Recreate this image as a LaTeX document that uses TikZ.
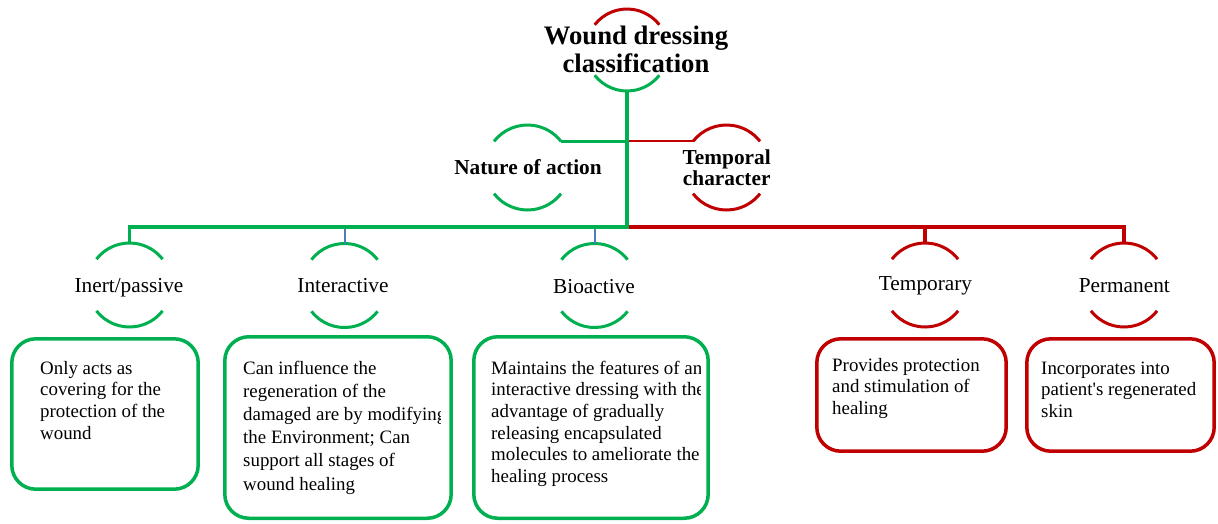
\documentclass[tikz,border=0pt]{standalone}
\usepackage{fontspec}
\setmainfont{Liberation Serif}
\definecolor{dgreen}{RGB}{0,176,80}
\definecolor{dred}{RGB}{192,0,0}
\definecolor{lblue}{RGB}{74,126,187}
\newcommand\mylines[1]{\begin{tabular}[t]{@{}l@{}}#1\end{tabular}}
\newcommand\myclines[1]{\begin{tabular}[t]{@{}c@{}}#1\end{tabular}}
\newcommand\ringarcs[4]{%
  \draw[#2] (#1.142) arc[start angle=142,end angle=38,radius=#4];
  \draw[#3] (#1.218) arc[start angle=218,end angle=322,radius=#4];}
\begin{document}
\begin{tikzpicture}[x=1pt,y=-1pt,
  ring/.style={circle,draw=none,minimum size=84pt,inner sep=0pt,outer sep=0pt},
  garc/.style={draw=dgreen,line width=3pt},
  rarc/.style={draw=dred,line width=3pt},
  gbox/.style={rectangle,draw=dgreen,line width=3.5pt,rounded corners=24pt,inner sep=0pt,outer sep=0pt},
  rbox/.style={rectangle,draw=dred,line width=3.5pt,rounded corners=24pt,inner sep=0pt,outer sep=0pt},
  titletext/.style={font=\fontsize{26.7}{28.5}\selectfont\bfseries,inner sep=0pt,anchor=base},
  cattext/.style={font=\fontsize{21.3}{21}\selectfont\bfseries,inner sep=0pt,anchor=base},
  subtext/.style={font=\fontsize{21.3}{23}\selectfont,inner sep=0pt,anchor=base},
  desc/.style={font=\fontsize{18.9}{21.7}\selectfont,inner sep=0pt,anchor=base west},
  gline/.style={draw=dgreen,line width=3.3pt},
  rline/.style={draw=dred,line width=3.3pt},
  rthin/.style={draw=dred,line width=2pt},
  bline/.style={draw=lblue,line width=2pt},
]
\useasboundingbox (0,0) rectangle (1218,523);

% rings
\node[ring,minimum size=82pt] (wdc) at (627,50) {};
\node[ring,minimum size=85pt] (noa) at (527.5,167.5) {};
\node[ring,minimum size=85pt] (tc) at (726.5,167.5) {};
\node[ring] (inert) at (129.5,285) {};
\node[ring] (inter) at (344.5,285.5) {};
\node[ring] (bio) at (594.5,285.5) {};
\node[ring] (temp) at (925,285) {};
\node[ring] (perm) at (1124,285) {};

\ringarcs{wdc}{rarc}{garc}{41pt}
\ringarcs{noa}{garc}{garc}{42.5pt}
\ringarcs{tc}{rarc}{rarc}{42.5pt}
\ringarcs{inert}{garc}{garc}{42pt}
\ringarcs{inter}{garc}{garc}{42pt}
\ringarcs{bio}{garc}{garc}{42pt}
\ringarcs{temp}{rarc}{rarc}{42pt}
\ringarcs{perm}{rarc}{rarc}{42pt}

% labels
\node[titletext] (wdcT) at (636,44) {\myclines{Wound dressing\\classification}};
\node[cattext] (noaT) at (528,174) {Nature of action};
\node[cattext] (tcT) at (726.7,164.5) {\myclines{Temporal\\character}};
\node[subtext] (inertT) at (129,292.5) {Inert/passive};
\node[subtext] (interT) at (343,292.5) {Interactive};
\node[subtext] (bioT) at (594,293) {Bioactive};
\node[subtext] (tempT) at (925.5,290.5) {Temporary};
\node[subtext] (permT) at (1124.3,292) {Permanent};

% connectors
\coordinate (hub) at (627,227);
\draw[rline] (hub) -| (perm.north);
\draw[rline] (temp.north |- hub) -- (temp.north);
\draw[rthin] (tc.142 -| wdc.south) -- (tc.142);
\draw[bline] (inter.north |- hub) -- (inter.north);
\draw[bline] (bio.north |- hub) -- (bio.north);
\draw[gline] (wdc.south) -- (hub) -| (inert.north);
\draw[gline] (noa.38) -- (noa.38 -| wdc.south);

% boxes
\node[gbox,minimum width=186.4pt,minimum height=150.4pt] (b1) at (105,414) {};
\node[gbox,minimum width=226.4pt,minimum height=181.5pt] (b2) at (338,427.5) {};
\node[gbox,minimum width=234.4pt,minimum height=181.5pt] (b3) at (591,427.5) {};
\node[rbox,minimum width=189.4pt,minimum height=112.4pt] (b4) at (911.5,395) {};
\node[rbox,minimum width=187.4pt,minimum height=112.4pt] (b5) at (1120.5,395) {};

% descriptions
\node[desc] (d1) at (40,374) {\mylines{Only acts as\\covering for the\\protection of the\\wound}};
\begin{scope}
\clip (223,330) rectangle (440,523);
\node[desc,font=\fontsize{18.9}{23.2}\selectfont] (d2) at (243,374) {\mylines{Can influence the\\regeneration of the\\damaged are by modifying\\the Environment; Can\\support all stages of\\wound healing}};
\end{scope}
\begin{scope}
\clip (472,330) rectangle (700,523);
\node[desc] (d3) at (491,374) {\mylines{Maintains the features of an\\interactive dressing with the\\advantage of gradually\\releasing encapsulated\\molecules to ameliorate the\\healing process}};
\end{scope}
\node[desc] (d4) at (832,371) {\mylines{Provides protection\\and stimulation of\\healing}};
\node[desc] (d5) at (1041,374) {\mylines{Incorporates into\\patient\textquotesingle s regenerated\\skin}};
\end{tikzpicture}
\end{document}
